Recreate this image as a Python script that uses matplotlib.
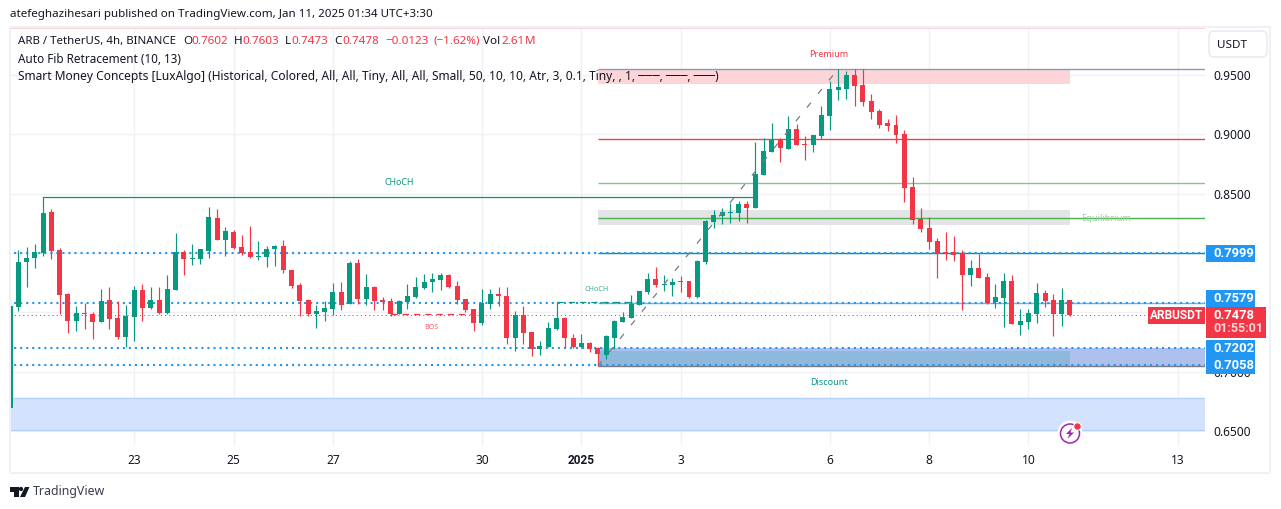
import numpy as np
import matplotlib
matplotlib.use('Agg')
import matplotlib.pyplot as plt
from matplotlib.patches import Rectangle, FancyBboxPatch, Circle, Polygon

plt.rcParams['font.family'] = ['Noto Sans', 'DejaVu Sans']

# candles, first one is the cut off bar on the left edge
opens = [.6694, .7545, .7924, .7958, .8000, .8346, .8025, .7654, .7427, .7494,
         .7486, .7418, .7604, .7452, .7292, .7460, .7688, .7536, .7604, .7494,
         .7688, .8008, .7949, .7949, .8017, .8295, .8110, .8177, .8051, .8008,
         .7966, .7966, .8034, .8059, .7857, .7730, .7604, .7486, .7502, .7528,
         .7671, .7573, .7916, .7612, .7713, .7604, .7595, .7486, .7587, .7629,
         .7705, .7756, .7772, .7815, .7722, .7612, .7528, .7410, .7570, .7654,
         .7638, .7283, .7477, .7334, .7191, .7208, .7359, .7452, .7283, .7208,
         .7241, .7199, .7140, .7283, .7418, .7452, .7564, .7671, .7781, .7730,
         .7730, .7764, .7764, .7629, .7924, .8261, .8311, .8337, .8337, .8412,
         .8379, .8657, .8851, .8960, .8876, .9045, .8918, .8910, .8986, .9154,
         .9374, .9382, .9500, .9416, .9281, .9196, .9095, .9078, .9003, .8556,
         .8286, .8210, .8101, .8008, .8008, .7994, .7814, .7873, .7797, .7586,
         .7620, .7763, .7392, .7418, .7485, .7662, .7603, .7485, .7602]
closes = [.7553, .7924, .7958, .8008, .8337, .8017, .7646, .7427, .7494, .7486,
          .7418, .7595, .7444, .7292, .7469, .7688, .7536, .7604, .7494, .7696,
          .8008, .7949, .7958, .8034, .8303, .8110, .8185, .8042, .8000, .7966,
          .7975, .8034, .8059, .7857, .7722, .7595, .7486, .7511, .7536, .7671,
          .7562, .7916, .7612, .7713, .7595, .7587, .7486, .7595, .7638, .7713,
          .7756, .7781, .7815, .7713, .7604, .7520, .7410, .7578, .7654, .7638,
          .7283, .7477, .7326, .7191, .7216, .7368, .7452, .7283, .7208, .7241,
          .7191, .7149, .7300, .7427, .7460, .7570, .7680, .7781, .7730, .7739,
          .7755, .7755, .7629, .7932, .8270, .8320, .8345, .8345, .8412, .8379,
          .8665, .8859, .8955, .8885, .9045, .8910, .8910, .8994, .9163, .9382,
          .9399, .9500, .9407, .9272, .9188, .9078, .9070, .8994, .8547, .8278,
          .8202, .8092, .7999, .7999, .7983, .7814, .7873, .7789, .7578, .7629,
          .7763, .7401, .7426, .7494, .7662, .7595, .7485, .7603, .7478]
highs = [.7604, .8025, .8051, .8076, .8469, .8371, .8042, .7663, .7553, .7578,
         .7503, .7696, .7713, .7595, .7562, .7722, .7739, .7713, .7713, .7814,
         .8169, .8025, .8076, .8034, .8388, .8371, .8219, .8194, .8152, .8228,
         .8101, .8059, .8067, .8110, .7857, .7747, .7612, .7562, .7595, .7747,
         .7756, .7933, .7949, .7823, .7722, .7629, .7621, .7604, .7739, .7798,
         .7823, .7831, .7831, .7823, .7764, .7612, .7528, .7696, .7696, .7713,
         .7713, .7511, .7553, .7334, .7258, .7418, .7587, .7460, .7317, .7317,
         .7250, .7208, .7309, .7435, .7502, .7646, .7680, .7831, .7882, .7814,
         .7789, .7806, .7764, .7941, .8278, .8362, .8379, .8421, .8438, .8438,
         .8935, .8969, .9095, .8969, .9154, .9087, .8986, .8994, .9239, .9449,
         .9550, .9534, .9550, .9550, .9340, .9213, .9129, .9163, .9036, .8640,
         .8379, .8303, .8126, .8177, .8143, .8025, .7940, .7991, .7831, .7738,
         .7831, .7814, .7527, .7527, .7747, .7688, .7654, .7704, .7603]
lows = [.6694, .7511, .7713, .7873, .7975, .7949, .7486, .7326, .7342, .7359,
        .7275, .7418, .7359, .7275, .7207, .7258, .7427, .7528, .7486, .7486,
        .7688, .7814, .7899, .7907, .7958, .8110, .7975, .8034, .7983, .7958,
        .7941, .7882, .7890, .7831, .7705, .7469, .7469, .7368, .7427, .7477,
        .7520, .7573, .7573, .7562, .7520, .7520, .7469, .7486, .7528, .7621,
        .7697, .7671, .7688, .7705, .7570, .7503, .7342, .7393, .7528, .7553,
        .7233, .7174, .7233, .7132, .7140, .7208, .7351, .7199, .7199, .7199,
        .7165, .7047, .7106, .7191, .7418, .7452, .7564, .7654, .7713, .7680,
        .7637, .7671, .7621, .7621, .7907, .8210, .8244, .8252, .8269, .8252,
        .8379, .8657, .8851, .8767, .8876, .8910, .8783, .8851, .8960, .9036,
        .9289, .9298, .9239, .9239, .9129, .9053, .9028, .8927, .8429, .8244,
        .8176, .8033, .7789, .7941, .7932, .7519, .7721, .7789, .7570, .7536,
        .7376, .7401, .7308, .7359, .7409, .7544, .7300, .7384, .7473]

date_pos = [14, 26, 38, 56, 68, 80, 98, 110, 122, 140]
date_labels = ['23', '25', '27', '30', '2025', '3', '6', '8', '10', '13']
price_ticks = [0.95, 0.90, 0.85, 0.80, 0.75, 0.70, 0.65]

# levels
dotted_levels = [0.7999, 0.7579, 0.7202, 0.7058]
last_price = 0.7478
fib_levels = [0.9548, 0.8958, 0.8587, 0.8292, 0.7999, 0.7579, 0.7047]
fib_colors = ['#8a99b8', '#e5493e', '#86c48a', '#4caf50', '#0b8fa0', '#64b5f6', '#787b86']
fib_start = 70
fib_end = 143.5
zone_end = 127

GREEN = '#089981'
RED = '#f23645'
BLUE = '#2196f3'
TXT = '#131722'

W, H = 1281, 509
fig = plt.figure(figsize=(W / 100, H / 100), dpi=100, facecolor='white')


def px_box(x0, y0, x1, y1):
    return [x0 / W, 1 - y1 / H, (x1 - x0) / W, (y1 - y0) / H]


ax = fig.add_axes(px_box(10, 28, 1205, 445))
ax.set_xlim(-1.002, 143.32)
ax.set_ylim(0.6382, 0.9896)
for s in ax.spines.values():
    s.set_visible(False)
ax.yaxis.tick_right()
ax.set_yticks(price_ticks)
ax.set_yticklabels(['%.4f' % p for p in price_ticks], fontsize=8.6, color=TXT)
ax.set_xticks(date_pos)
ax.set_xticklabels(date_labels, fontsize=8.6, color=TXT)
ax.tick_params(axis='y', length=0, pad=6.3)
ax.tick_params(axis='x', length=0, pad=6.3)
# 2025 is bold in the original
year_lab = ax.xaxis.get_major_ticks()[date_labels.index('2025')].label1
year_lab.set_family(['Roboto', 'DejaVu Sans'])
year_lab.set_fontweight('bold')
ax.grid(True, color='#f0f1f5', lw=1)
ax.set_axisbelow(True)

# zones
ax.add_patch(Rectangle((-2, 0.6505), 148, 0.0275, fc='#d3e3fd', ec='#b3d0fb', lw=1, zorder=1))
ax.add_patch(Rectangle((-2, 0.9885), 148, 0.0012, fc='#fbd5d8', lw=0, zorder=1))
ax.add_patch(Rectangle((fib_start, 0.9424), zone_end - fib_start, 0.0124, fc='#fcd5d9', lw=0, zorder=1))
ax.add_patch(Rectangle((fib_start, 0.8235), zone_end - fib_start, 0.0127, fc='#e3e4e6', lw=0, zorder=1))
ax.add_patch(Rectangle((fib_start, 0.7047), fib_end - fib_start, 0.0155, fc='#aec1ee', lw=0, zorder=1))
ax.add_patch(Rectangle((fib_start, 0.7047), zone_end - fib_start, 0.0130, fc='#8fb8dd', lw=0, zorder=1.1))

for lev, c in zip(fib_levels, fib_colors):
    ax.hlines(lev, fib_start, fib_end, color=c, lw=1.0, zorder=2)
for lev in dotted_levels:
    ax.hlines(lev, -2, fib_end, color=BLUE, lw=1.5, linestyles=[(0, (1, 1.9))], zorder=2.2)
ax.hlines(last_price, -2, fib_end, color=RED, lw=0.75, linestyles=[(0, (1, 3))], zorder=2.2)

# structure lines
ax.plot([3, 3, 89], [highs[4], 0.8469, 0.8469], color='#1f8a70', lw=0.9, zorder=2.5)
ax.hlines(0.7585, 65, 75, color=GREEN, lw=0.9, linestyles=[(0, (5, 4))], zorder=2.5)
ax.hlines(0.7483, 45, 55, color=RED, lw=0.9, linestyles=[(0, (5, 4))], zorder=2.5)
ax.plot([70, 99], [0.7047, 0.9550], color='#787b86', lw=0.9, linestyle=(0, (5, 9)), zorder=3.5)

ax.text(46, 0.8595, 'CHoCH', color=GREEN, fontsize=6.3, ha='center', va='center')
ax.text(69.9, 0.7690, 'CHoCH', color=GREEN, fontsize=5.2, ha='center', va='center', alpha=0.8)
ax.text(49.9, 0.7375, 'BOS', color=RED, fontsize=5.2, ha='center', va='center', alpha=0.8)
ax.text(97.9, 0.9672, 'Premium', color=RED, fontsize=6.5, ha='center', va='center')
ax.text(97.85, 0.6905, 'Discount', color=GREEN, fontsize=6.5, ha='center', va='center')
ax.text(131.4, 0.8292, 'Equilibrium', color='#9ccfa0', fontsize=6.7, ha='center', va='center')

# candles
o = np.array(opens)
c = np.array(closes)
h = np.array(highs)
l = np.array(lows)
idx = np.arange(len(o)) - 1
up = c >= o
cols = np.where(up, GREEN, RED)
ax.vlines(idx, l, h, colors=cols, lw=0.85, zorder=3)
body_lo = np.minimum(o, c)
body_hi = np.maximum(o, c)
# very flat candles still show as a 1px dash
ax.bar(idx, np.maximum(body_hi - body_lo, 0.0009), bottom=body_lo, width=0.6, color=cols, lw=0, zorder=3)

# page stuff on top, in pixels
ov = fig.add_axes([0, 0, 1, 1], facecolor='none', zorder=5)
ov.set_xlim(0, W)
ov.set_ylim(H, 0)
ov.axis('off')

for r in [(9, 26, 1262, 2), (8.5, 26, 2, 448), (1269, 26, 2, 448), (9, 472, 1262, 2)]:
    ov.add_patch(Rectangle((r[0], r[1]), r[2], r[3], fc='#eff1f6', lw=0))

ov.text(10, 14, 'atefeghazihesari published on TradingView.com, Jan 11, 2025 01:34 UTC+3:30',
        fontsize=8.35, color=TXT, va='center')
ov.text(18, 41, 'ARB / TetherUS, 4h, BINANCE', fontsize=8.25, color=TXT, va='center')
legend_bits = [(183, 'O', TXT), (191, '0.7602', RED), (234, 'H', TXT), (242, '0.7603', RED),
               (285, 'L', TXT), (291, '0.7473', RED), (334, 'C', TXT), (342, '0.7478', RED),
               (385, '−0.0123', RED), (434, '(−1.62%)', RED), (483, 'Vol', TXT), (501, '2.61', RED),
               (525, 'M', RED)]
for x, t, col in legend_bits:
    ov.text(x, 41, t, fontsize=8.4, color=col, va='center')
ov.text(18, 59, 'Auto Fib Retracement (10, 13)', fontsize=8.45, color=TXT, va='center')
ov.text(18, 76, 'Smart Money Concepts [LuxAlgo] (Historical, Colored, All, All, Tiny, All, All, Small, '
        '50, 10, 10, Atr, 3, 0.1, Tiny, , 1, ───, ───, ───)', fontsize=8.6, color=TXT, va='center')

# USDT button
ov.add_patch(FancyBboxPatch((1212, 34), 52, 20, boxstyle='round,pad=3,rounding_size=5',
                            fc='white', ec='#e7e9f0', lw=1))
ov.text(1231.5, 45, 'USDT', fontsize=8.4, color=TXT, ha='center', va='center')

# price tags
tag_font = ['Roboto', 'DejaVu Sans']
for y0, y1, labels in [(245, 262, [('0.7999', 253.5)]), (290, 307, [('0.7579', 298.5)]),
                       (340, 374, [('0.7202', 348.5), ('0.7058', 365.5)])]:
    ov.add_patch(Rectangle((1206, y0), 49, y1 - y0, fc=BLUE, lw=0))
    for t, y in labels:
        ov.text(1213.5, y, t, fontsize=9.4, color='white', family=tag_font, fontweight='bold', va='center')
ov.add_patch(Rectangle((1206, 307), 60, 31, fc=RED, lw=0))
ov.text(1213.5, 315.5, '0.7478', fontsize=9.4, color='white', family=tag_font, fontweight='bold', va='center')
ov.text(1213.5, 329, '01:55:01', fontsize=9, color='#fdd7da', family=tag_font, fontweight='bold', va='center')
ov.add_patch(Rectangle((1148, 307), 57, 17, fc=RED, lw=0))
ov.text(1176.5, 315.5, 'ARBUSDT', fontsize=8.6, color='white', family=tag_font, fontweight='bold',
        ha='center', va='center')

# lightning badge
ov.add_patch(Circle((1070, 433), 12.5, fc='white', ec='none'))
ov.add_patch(Circle((1070, 433.5), 9.5, fc='white', ec='#9c27b0', lw=1.1))
ov.add_patch(Polygon([(1072, 428), (1066, 434), (1069.5, 434), (1067.5, 439), (1074, 432.5), (1070.5, 432.5)],
                     fc='#9c27b0', lw=0))
ov.add_patch(Circle((1077.5, 426.5), 3.8, fc=RED, ec='white', lw=0.8))

# TradingView logo
ov.add_patch(Polygon([(10, 487), (18.5, 487), (18.5, 497), (14, 497), (14, 491.5), (10, 491.5)], fc='#131722', lw=0))
ov.add_patch(Circle((21, 489), 2.1, fc='#131722', lw=0))
ov.add_patch(Polygon([(25, 487), (29.5, 487), (25, 497), (20, 497)], fc='#131722', lw=0))
ov.text(33, 491.5, 'TradingView', fontsize=8.95, color='#3a3e4a', va='center')

fig.savefig('out.png', dpi=100)
